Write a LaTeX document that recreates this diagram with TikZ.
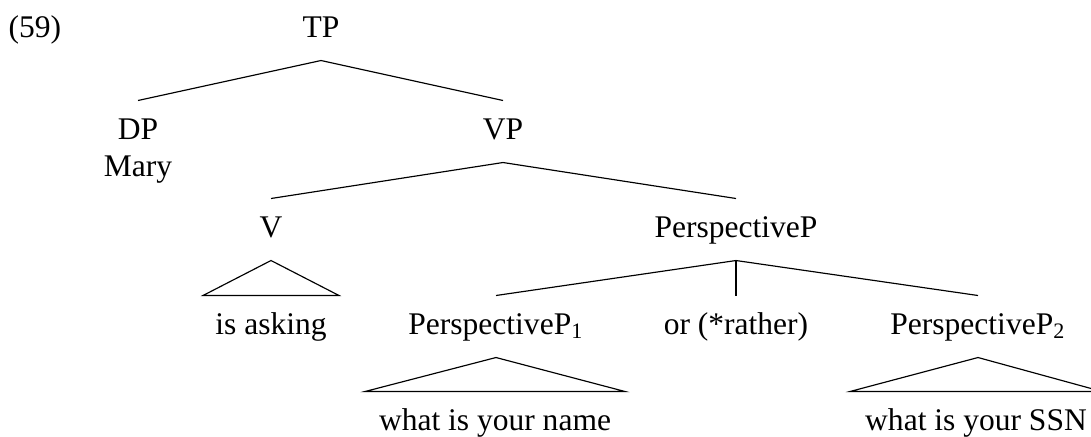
\documentclass[tikz,border=0pt]{standalone}
\usepackage{fontspec}
\setmainfont{Liberation Serif}
\usetikzlibrary{calc}

\begin{document}
\begin{tikzpicture}[
  x=0.387pt, y=-0.387pt,
  font=\fontsize{12.2}{14.6}\selectfont,
  lab/.style={anchor=base, inner sep=0pt, text height=14.7pt, text depth=8.9pt},
  edge/.style={line width=0.45pt}
]
\useasboundingbox (0,0) rectangle (1091,436);

\node[anchor=base west, inner sep=0pt] (exnum) at (8,37) {(59)};

% level 0 and 1
\node[lab] (tp)   at (321,37)  {TP};
\node[lab] (dp)   at (138,139) {DP};
\node[lab] (mary) at (138,176) {Mary};
\node[lab] (vp)   at (503,139) {VP};

% level 2
\node[lab] (v)     at (271,237) {V};
\node[lab] (persp) at (736,237) {PerspectiveP};

% level 3
\node[lab] (asking) at (271,334) {is asking};
\node[lab] (pp1)    at (496,334) {PerspectiveP\textsubscript{1}};
\node[lab] (conj)   at (736,334) {or (*rather)};
\node[lab] (pp2)    at (978,334) {PerspectiveP\textsubscript{2}};

% level 4
\node[lab] (name) at (495,430) {what is your name};
\node[lab] (ssn)  at (976,430) {what is your SSN};

\draw[edge] (tp.south) -- (dp.north);
\draw[edge] (tp.south) -- (vp.north);
\draw[edge] (vp.south) -- (v.north);
\draw[edge] (vp.south) -- (persp.north);
\draw[edge] (persp.south) -- (pp1.north);
\draw[edge] (persp.south) -- (conj.north);
\draw[edge] (persp.south) -- (pp2.north);

% roofs
\draw[edge] (v.south) -- ($(asking.north)+(-68,0)$) -- ($(asking.north)+(68,0)$) -- cycle;
\draw[edge] (pp1.south) -- ($(name.north)+(-130,0)$) -- ($(name.north)+(130,0)$) -- cycle;
\draw[edge] (pp2.south) -- ($(ssn.north)+(-126,0)$) -- ($(ssn.north)+(126,0)$) -- cycle;
\end{tikzpicture}
\end{document}
